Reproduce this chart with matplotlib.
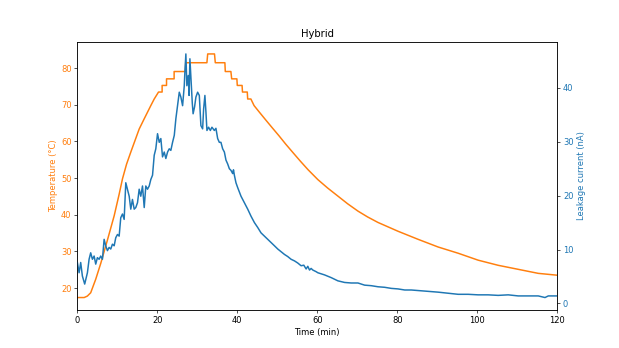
import matplotlib
matplotlib.use("Agg")
import matplotlib.pyplot as plt

# Temperature (deg C) vs time (min)
temp_time = [0.0, 1.7, 2.5, 3.33, 4.59, 5.84, 7.52, 9.2, 10.45, 11.28, 12.3, 13.36, 15.46, 16.72, 18.37, 19.22,
             20.3, 21.2, 21.2, 22.3, 22.3, 24.2, 24.2, 27.0, 27.1, 32.4, 32.6, 34.3, 34.5, 36.9,
             37.0, 38.4, 38.6, 39.9, 40.0, 41.2, 41.3, 42.5, 42.6, 43.4,
             44.2, 45.6, 47.1, 48.7, 50.4, 52.1, 53.9, 55.8, 57.7, 60.15, 62.6, 65.16, 67.6, 70.18,
             72.6, 75.19, 80.2, 85.21, 90.23, 95.24, 100.25, 105.26, 110.28, 115.29, 120.0]
temp_vals = [17.4, 17.4, 17.8, 18.7, 22.4, 26.7, 33.1, 39.7, 45.6, 49.8, 53.8, 57.1, 63.4, 66.2, 69.8, 71.6,
             73.5, 73.5, 75.3, 75.3, 77.1, 77.1, 79.1, 79.1, 81.5, 81.5, 83.9, 83.9, 81.5, 81.5,
             79.1, 79.1, 77.1, 77.1, 75.3, 75.3, 73.5, 73.5, 71.6, 71.6,
             69.8, 67.9, 65.9, 63.8, 61.6, 59.3, 57.0, 54.6, 52.3, 49.6, 47.3, 45.1, 43.0, 41.0,
             39.4, 37.9, 35.5, 33.3, 31.2, 29.5, 27.6, 26.2, 25.1, 24.0, 23.5]

# Leakage current (nA) vs time (min)
cur_time = [0.0, 0.43, 0.83, 1.25, 1.83, 2.51, 2.93, 3.33, 3.76, 4.19, 4.59, 5.01, 5.44, 5.84, 6.27,
            6.69, 7.09, 7.52, 7.94, 8.35, 8.77, 9.20, 9.60, 10.03, 10.45, 10.85, 11.28, 11.70, 12.11,
            12.53, 12.96, 13.36, 13.78, 14.21, 14.61, 15.04, 15.46, 15.86, 16.29, 16.72, 17.12, 17.54,
            17.97, 18.37, 18.80, 19.22, 19.62, 20.05, 20.48, 20.88, 21.30, 21.73, 22.13, 22.56, 22.98,
            23.38, 23.81, 24.24, 24.64, 25.06, 25.49, 25.89, 26.32, 26.74, 26.89, 27.14, 27.39, 27.74,
            27.94, 28.15, 28.75, 28.95, 29.32, 29.65, 30.08, 30.50, 30.90, 31.33, 31.58, 31.90, 32.16,
            32.41, 32.83, 33.26, 33.66, 34.26, 34.66, 35.09, 35.51, 35.91, 36.34, 36.77, 37.17, 37.59,
            38.02, 38.42, 38.85, 39.05, 39.27, 39.67, 40.10, 40.93, 41.78, 42.61, 43.43, 44.29, 45.11,
            45.94, 46.79, 47.62, 48.45, 49.30, 50.13, 50.95, 51.80, 52.63, 53.46, 54.31, 55.14, 55.96,
            56.64, 57.22, 57.64, 58.07, 58.47, 58.90, 59.72, 60.15, 61.83, 63.48, 65.16, 66.84, 68.50,
            70.18, 71.85, 73.51, 75.19, 76.87, 78.52, 80.20, 81.88, 83.53, 85.21, 86.89, 88.55, 90.23,
            92.73, 95.24, 97.74, 100.25, 102.76, 105.26, 107.77, 110.28, 112.78, 115.29, 116.97, 117.8,
            120.0]
cur_vals = [7.6, 5.7, 7.6, 5.1, 3.6, 5.7, 8.2, 9.4, 8.2, 8.8, 7.3, 8.5, 8.2, 8.8, 8.2,
            11.9, 10.7, 9.8, 10.4, 10.1, 11.0, 10.7, 12.2, 12.8, 12.5, 15.9, 16.6, 15.6, 22.4,
            21.2, 19.9, 17.5, 19.3, 17.5, 17.8, 18.7, 21.2, 19.9, 21.8, 17.8, 21.8, 21.2,
            21.8, 23.0, 23.8, 27.5, 28.7, 31.5, 29.9, 30.6, 27.2, 28.1, 26.9, 28.1, 28.7,
            28.4, 29.9, 31.2, 34.3, 36.7, 39.2, 38.3, 36.7, 40.4, 42.9, 46.3, 40.4, 42.3,
            38.6, 45.4, 37.1, 35.2, 36.5, 38.3, 39.2, 38.6, 33.0, 32.4, 36.1, 38.6, 35.5,
            32.1, 32.7, 32.1, 32.7, 32.1, 32.5, 30.6, 29.9, 29.9, 28.7, 28.1, 26.6, 25.9,
            25.0, 24.7, 24.1, 24.8, 23.8, 22.4, 21.5, 19.9, 18.7, 17.5, 16.2, 15.0, 14.1,
            13.1, 12.5, 11.9, 11.3, 10.7, 10.1, 9.6, 9.1, 8.7, 8.2, 7.9, 7.5, 7.0,
            7.1, 6.4, 6.9, 6.2, 6.5, 6.2, 5.9, 5.7, 5.3, 4.8, 4.2, 3.9, 3.8,
            3.8, 3.4, 3.3, 3.1, 3.0, 2.8, 2.7, 2.5, 2.5, 2.4, 2.3, 2.2, 2.1,
            1.9, 1.7, 1.7, 1.6, 1.6, 1.5, 1.6, 1.4, 1.4, 1.4, 1.1, 1.4,
            1.4]

DPI = 60
fig, ax1 = plt.subplots(figsize=(619 / DPI, 348 / DPI), dpi=DPI)
ax1.plot(temp_time, temp_vals, color="C1", linewidth=1.8)
ax1.set_xlabel("Time (min)")
ax1.set_ylabel("Temperature (°C)", color="C1")
ax1.tick_params(axis="y", labelcolor="C1")
ax1.set_xlim(0, 120)
ax1.set_title("Hybrid")

ax2 = ax1.twinx()
ax2.plot(cur_time, cur_vals, color="C0", linewidth=1.8)
ax2.set_ylabel("Leakage current (nA)", color="C0")
ax2.tick_params(axis="y", labelcolor="C0")

fig.savefig("out.png", dpi=DPI)
